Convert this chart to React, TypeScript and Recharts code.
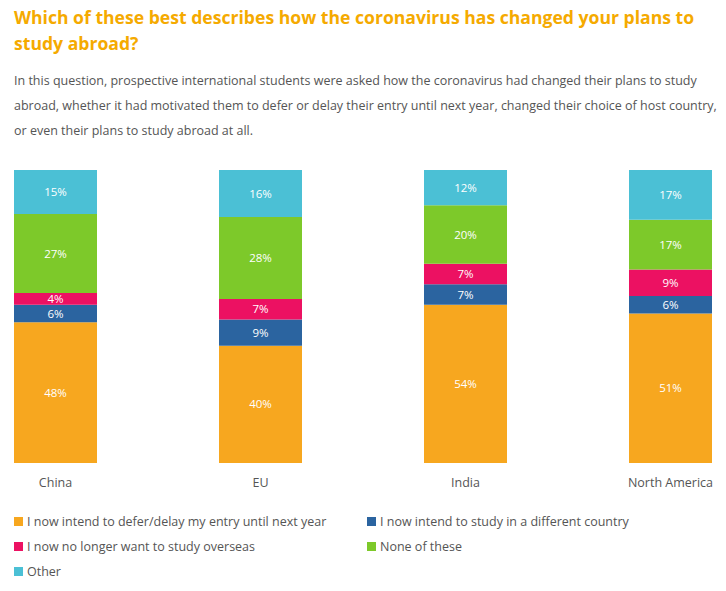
import React from "react";
import { BarChart, Bar, XAxis, YAxis, LabelList } from "recharts";

const regions = ["China", "EU", "India", "North America"];
const deferDelay = [48, 40, 54, 51];
const differentCountry = [6, 9, 7, 6];
const noLonger = [4, 7, 7, 9];
const noneOfThese = [27, 28, 20, 17];
const other = [15, 16, 12, 17];

const seriesDefs = [
  { key: "defer", name: "I now intend to defer/delay my entry until next year", color: "#F7A71F", values: deferDelay },
  { key: "different", name: "I now intend to study in a different country", color: "#2B64A0", values: differentCountry },
  { key: "nolonger", name: "I now no longer want to study overseas", color: "#EC1162", values: noLonger },
  { key: "none", name: "None of these", color: "#7DC92A", values: noneOfThese },
  { key: "other", name: "Other", color: "#4BC0D5", values: other },
];

const data = regions.map((r, i) => {
  const row: Record<string, string | number> = { region: r };
  seriesDefs.forEach((s) => {
    row[s.key] = s.values[i];
  });
  return row;
});

const FONT = "'Open Sans', sans-serif";

export default function App() {
  return (
    <div style={{ position: "absolute", left: 0, top: 0, width: 726, height: 591, background: "#fff", overflow: "hidden" }}>
      <div
        style={{
          position: "absolute",
          left: 14,
          top: 4,
          width: 705,
          fontFamily: FONT,
          fontWeight: 700,
          fontSize: 17.6,
          lineHeight: "26px",
          color: "#F5AA00",
        }}
      >
        Which of these best describes how the coronavirus has changed your plans to study abroad?
      </div>
      <div
        style={{
          position: "absolute",
          left: 14,
          top: 68,
          width: 712,
          fontFamily: FONT,
          fontSize: 12.5,
          lineHeight: "25px",
          color: "#555",
        }}
      >
        In this question, prospective international students were asked how the coronavirus had changed their plans to study abroad, whether it had motivated them to defer or delay their entry until next year, changed their choice of host country, or even their plans to study abroad at all.
      </div>
      <div style={{ position: "absolute", left: 0, top: 0 }}>
        <BarChart
          width={726}
          height={591}
          data={data}
          margin={{ top: 170, bottom: 98, left: -47, right: -47 }}
          barSize={83}
        >
          <XAxis
            dataKey="region"
            axisLine={false}
            tickLine={false}
            tickMargin={9}
            height={30}
            tick={{ fill: "#555", fontSize: 12.5, fontFamily: FONT }}
            interval={0}
          />
          <YAxis hide domain={[0, 100]} />
          {seriesDefs.map((s) => (
            <Bar key={s.key} dataKey={s.key} name={s.name} stackId="a" fill={s.color} isAnimationActive={false}>
              <LabelList
                dataKey={s.key}
                position="center"
                formatter={(v: number) => `${v}%`}
                style={{ fill: "#fff", fontSize: 11.5, fontFamily: FONT }}
              />
            </Bar>
          ))}
        </BarChart>
      </div>
      <div
        style={{
          position: "absolute",
          top: 512,
          left: 14,
          display: "grid",
          gridTemplateColumns: "353px 340px",
          rowGap: 7,
          fontFamily: FONT,
          fontSize: 12.5,
          color: "#555",
        }}
      >
        {seriesDefs.map((s) => (
          <div key={s.key} style={{ display: "flex", alignItems: "center", height: 18 }}>
            <span style={{ display: "inline-block", width: 9, height: 9, background: s.color, marginRight: 4 }} />
            <span>{s.name}</span>
          </div>
        ))}
      </div>
    </div>
  );
}
